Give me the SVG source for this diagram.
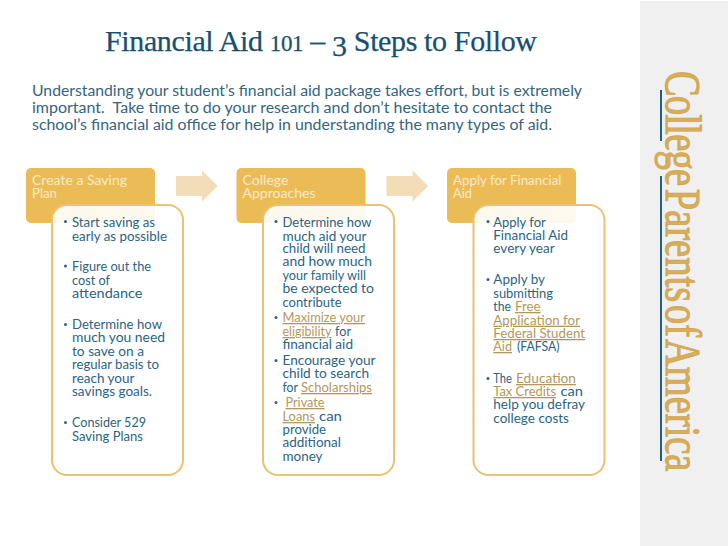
<svg xmlns="http://www.w3.org/2000/svg" width="728" height="546" viewBox="0 0 728 546">
<style>
text{font-family:"Lato","Open Sans","Liberation Sans",sans-serif;white-space:pre}
.title{font-family:"Liberation Serif",serif;font-size:30px;fill:#17506F;stroke:#17506F;stroke-width:.25px}
.intro{font-size:14.5px;fill:#35647E}
.head{font-size:13.2px;fill:#F8EACB}
.b{font-size:13px;fill:#2B6483}
.l{font-size:13px;fill:#B4975A;text-decoration:underline}
.hbox{fill:#EBBC55}
.bbox{fill:#FFFFFF;fill-opacity:.9;stroke:#E9C272;stroke-width:2}
.arrow{fill:#F3DDB6}
.logo{font-family:"Liberation Serif",serif;font-size:50px;fill:#D9AE55;stroke:#CFA858;stroke-width:1.1px}
.rule{fill:#1F5F86}
</style>
<rect width="728" height="546" fill="#FFFFFF"/>
<g id="sidebar">
<rect x="640" y="1" width="88" height="545" fill="#F0F0F0"/>
<rect class="rule" x="660" y="90" width="2" height="51"/>
<rect class="rule" x="660" y="176" width="2" height="285"/>
<text class="logo" transform="translate(666 71) rotate(90) scale(.77 1)"><tspan letter-spacing="-1">College</tspan> <tspan x="153">Parents</tspan> <tspan x="304">of</tspan> <tspan x="348">America</tspan></text>
</g>
<g id="heading">
<text class="title" x="105" y="51" textLength="432" lengthAdjust="spacing">Financial Aid <tspan font-size="23">101</tspan> – <tspan dy="5">3</tspan><tspan dy="-5"> Steps to Follow</tspan></text>
<text class="intro" x="32" y="96" textLength="550" lengthAdjust="spacingAndGlyphs">Understanding your student’s financial aid package takes effort, but is extremely</text>
<text class="intro" x="32" y="112.7" textLength="520" lengthAdjust="spacingAndGlyphs">important.  Take time to do your research and don’t hesitate to contact the</text>
<text class="intro" x="32" y="129.5" textLength="520" lengthAdjust="spacingAndGlyphs">school’s financial aid office for help in understanding the many types of aid.</text>
</g>
<g id="connectors">
<path class="arrow" d="M176 176H202V170.500L217.700 186 202 201.500V196H176Z"/>
<path class="arrow" d="M386.500 176H412.500V170.500L428.200 186 412.500 201.500V196H386.500Z"/>
</g>
<g id="step-1">
<rect class="hbox" x="26" y="168" width="129" height="55" rx="5"/>
<text class="head" x="32" y="185" textLength="95" lengthAdjust="spacingAndGlyphs">Create a Saving</text>
<text class="head" x="32" y="198" textLength="25" lengthAdjust="spacingAndGlyphs">Plan</text>
<rect class="bbox" x="52" y="205" width="131" height="270" rx="15"/>
<circle class="b" cx="65.500" cy="221.500" r="1.500"/>
<text class="b" x="72" y="226.700" textLength="83" lengthAdjust="spacingAndGlyphs">Start saving as</text>
<text class="b" x="72" y="240.500" textLength="95" lengthAdjust="spacingAndGlyphs">early as possible</text>
<circle class="b" cx="65.500" cy="266" r="1.500"/>
<text class="b" x="72" y="271" textLength="79" lengthAdjust="spacingAndGlyphs">Figure out the</text>
<text class="b" x="72" y="284.700" textLength="38" lengthAdjust="spacingAndGlyphs">cost of</text>
<text class="b" x="72" y="298" textLength="70.500" lengthAdjust="spacingAndGlyphs">attendance</text>
<circle class="b" cx="65.500" cy="324.500" r="1.500"/>
<text class="b" x="72" y="329" textLength="90" lengthAdjust="spacingAndGlyphs">Determine how</text>
<text class="b" x="72" y="342" textLength="93" lengthAdjust="spacingAndGlyphs">much you need</text>
<text class="b" x="72" y="356" textLength="72" lengthAdjust="spacingAndGlyphs">to save on a</text>
<text class="b" x="72" y="369" textLength="87" lengthAdjust="spacingAndGlyphs">regular basis to</text>
<text class="b" x="72" y="383" textLength="62.500" lengthAdjust="spacingAndGlyphs">reach your</text>
<text class="b" x="72" y="396" textLength="80" lengthAdjust="spacingAndGlyphs">savings goals.</text>
<circle class="b" cx="65.500" cy="422.500" r="1.500"/>
<text class="b" x="72" y="427" textLength="74" lengthAdjust="spacingAndGlyphs">Consider 529</text>
<text class="b" x="72" y="441" textLength="71" lengthAdjust="spacingAndGlyphs">Saving Plans</text>
</g>
<g id="step-2">
<rect class="hbox" x="236.500" y="168" width="129" height="55" rx="5"/>
<text class="head" x="242.500" y="185" textLength="46" lengthAdjust="spacingAndGlyphs">College</text>
<text class="head" x="242.500" y="198" textLength="73" lengthAdjust="spacingAndGlyphs">Approaches</text>
<rect class="bbox" x="263" y="205" width="131" height="270" rx="15"/>
<circle class="b" cx="276" cy="221.500" r="1.500"/>
<text class="b" x="282.500" y="226.700" textLength="89" lengthAdjust="spacingAndGlyphs">Determine how</text>
<text class="b" x="282.500" y="240.500" textLength="84" lengthAdjust="spacingAndGlyphs">much aid your</text>
<text class="b" x="282.500" y="253" textLength="83" lengthAdjust="spacingAndGlyphs">child will need</text>
<text class="b" x="282.500" y="266" textLength="89.500" lengthAdjust="spacingAndGlyphs">and how much</text>
<text class="b" x="282.500" y="280" textLength="83.500" lengthAdjust="spacingAndGlyphs">your family will</text>
<text class="b" x="282.500" y="293" textLength="91.500" lengthAdjust="spacingAndGlyphs">be expected to</text>
<text class="b" x="282.500" y="306.500" textLength="59" lengthAdjust="spacingAndGlyphs">contribute</text>
<circle class="b" cx="276" cy="317.500" r="1.500"/>
<text class="l" x="282.500" y="322" textLength="82.500" lengthAdjust="spacingAndGlyphs">Maximize your</text>
<text class="l" x="282.500" y="336" textLength="49" lengthAdjust="spacingAndGlyphs">eligibility</text>
<text class="b" x="335" y="336" textLength="16" lengthAdjust="spacingAndGlyphs">for</text>
<text class="b" x="282.500" y="349" textLength="70.500" lengthAdjust="spacingAndGlyphs">financial aid</text>
<circle class="b" cx="276" cy="360.500" r="1.500"/>
<text class="b" x="282.500" y="365" textLength="93" lengthAdjust="spacingAndGlyphs">Encourage your</text>
<text class="b" x="282.500" y="378" textLength="86.500" lengthAdjust="spacingAndGlyphs">child to search</text>
<text class="b" x="282.500" y="392" textLength="15.500" lengthAdjust="spacingAndGlyphs">for</text>
<text class="l" x="301" y="392" textLength="71" lengthAdjust="spacingAndGlyphs">Scholarships</text>
<circle class="b" cx="276" cy="402.500" r="1.500"/>
<text class="l" x="285.500" y="407" textLength="39" lengthAdjust="spacingAndGlyphs">Private</text>
<text class="l" x="282.500" y="421" textLength="32.500" lengthAdjust="spacingAndGlyphs">Loans</text>
<text class="b" x="319" y="421" textLength="23" lengthAdjust="spacingAndGlyphs">can</text>
<text class="b" x="282.500" y="434" textLength="43.500" lengthAdjust="spacingAndGlyphs">provide</text>
<text class="b" x="282.500" y="447" textLength="58.500" lengthAdjust="spacingAndGlyphs">additional</text>
<text class="b" x="282.500" y="461" textLength="40" lengthAdjust="spacingAndGlyphs">money</text>
</g>
<g id="step-3">
<rect class="hbox" x="447" y="168" width="129" height="55" rx="5"/>
<text class="head" x="453" y="185" textLength="108.500" lengthAdjust="spacingAndGlyphs">Apply for Financial</text>
<text class="head" x="453" y="198" textLength="19" lengthAdjust="spacingAndGlyphs">Aid</text>
<rect class="bbox" x="473.500" y="205" width="131" height="270" rx="15"/>
<circle class="b" cx="488" cy="221.500" r="1.500"/>
<text class="b" x="493.300" y="226.700" textLength="52.400" lengthAdjust="spacingAndGlyphs">Apply for</text>
<text class="b" x="493.300" y="240" textLength="74.700" lengthAdjust="spacingAndGlyphs">Financial Aid</text>
<text class="b" x="493.300" y="253" textLength="61.400" lengthAdjust="spacingAndGlyphs">every year</text>
<circle class="b" cx="488" cy="279.500" r="1.500"/>
<text class="b" x="493.300" y="284" textLength="51.700" lengthAdjust="spacingAndGlyphs">Apply by</text>
<text class="b" x="493.300" y="298" textLength="59.700" lengthAdjust="spacingAndGlyphs">submitting</text>
<text class="b" x="493.300" y="311" textLength="17.700" lengthAdjust="spacingAndGlyphs">the</text>
<text class="l" x="515" y="311" textLength="25.500" lengthAdjust="spacingAndGlyphs">Free</text>
<text class="l" x="493.300" y="324.700" textLength="86.700" lengthAdjust="spacingAndGlyphs">Application for</text>
<text class="l" x="493.300" y="338" textLength="91.700" lengthAdjust="spacingAndGlyphs">Federal Student</text>
<text class="l" x="493.300" y="351" textLength="18.700" lengthAdjust="spacingAndGlyphs">Aid</text>
<text class="b" x="517" y="351" textLength="42.500" lengthAdjust="spacingAndGlyphs">(FAFSA)</text>
<circle class="b" cx="488" cy="378.500" r="1.500"/>
<text class="b" x="493.300" y="383" textLength="18.700" lengthAdjust="spacingAndGlyphs">The</text>
<text class="l" x="516" y="383" textLength="60" lengthAdjust="spacingAndGlyphs">Education</text>
<text class="l" x="493.300" y="396" textLength="62.700" lengthAdjust="spacingAndGlyphs">Tax Credits</text>
<text class="b" x="560.500" y="396" textLength="22.500" lengthAdjust="spacingAndGlyphs">can</text>
<text class="b" x="493.300" y="409" textLength="91.700" lengthAdjust="spacingAndGlyphs">help you defray</text>
<text class="b" x="493.300" y="423" textLength="75.700" lengthAdjust="spacingAndGlyphs">college costs</text>
</g>
</svg>
